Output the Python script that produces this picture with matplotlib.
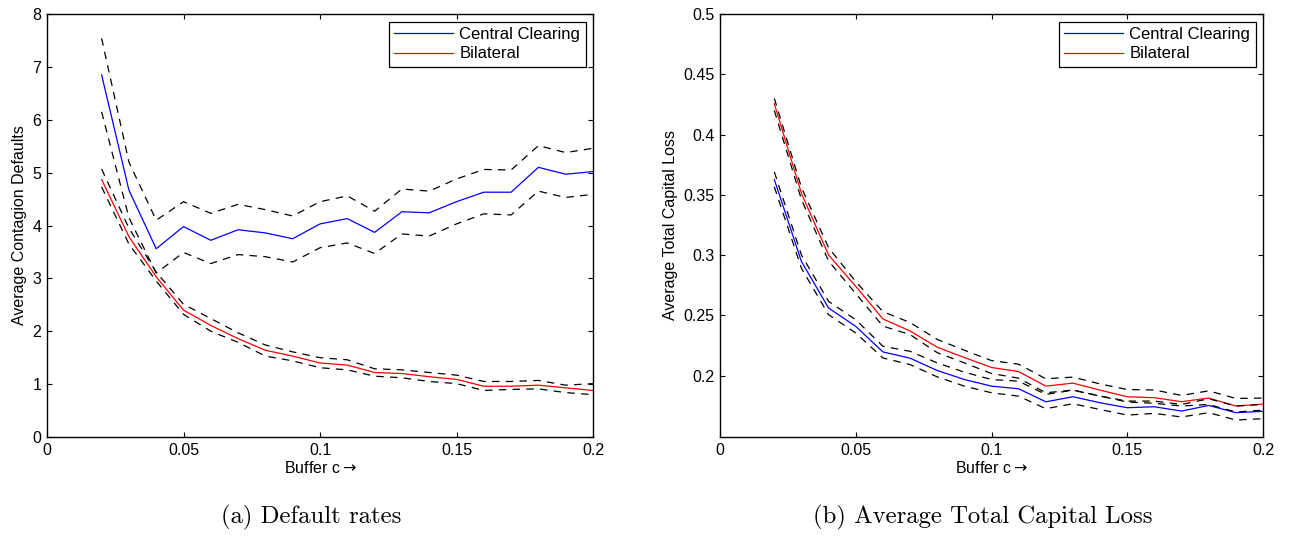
import numpy as np
import matplotlib
matplotlib.use('Agg')
import matplotlib.pyplot as plt
from matplotlib.ticker import FuncFormatter
from matplotlib import rcParams

rcParams['font.family'] = ['Liberation Sans', 'DejaVu Sans']
rcParams['font.size'] = 11.5

buffer_c = [0.02, 0.03, 0.04, 0.05, 0.06, 0.07, 0.08, 0.09, 0.10, 0.11,
            0.12, 0.13, 0.14, 0.15, 0.16, 0.17, 0.18, 0.19, 0.20]

# (a) default rates
cc_def = [6.85, 4.67, 3.56, 3.98, 3.72, 3.92, 3.86, 3.75, 4.03, 4.13,
          3.87, 4.26, 4.24, 4.45, 4.63, 4.63, 5.10, 4.97, 5.02]
cc_def_hi = [7.54, 5.20, 4.10, 4.45, 4.23, 4.40, 4.30, 4.18, 4.45, 4.56,
             4.27, 4.69, 4.65, 4.88, 5.06, 5.05, 5.51, 5.38, 5.46]
cc_def_lo = [6.15, 4.15, 3.10, 3.49, 3.28, 3.45, 3.41, 3.31, 3.58, 3.67,
             3.47, 3.84, 3.80, 4.03, 4.22, 4.20, 4.65, 4.53, 4.59]
bl_def = [4.87, 3.79, 3.03, 2.40, 2.11, 1.86, 1.64, 1.53, 1.40, 1.36,
          1.22, 1.20, 1.14, 1.09, 0.96, 0.96, 0.98, 0.93, 0.88]
bl_def_hi = [5.07, 3.95, 3.12, 2.51, 2.24, 1.97, 1.74, 1.61, 1.50, 1.46,
             1.29, 1.27, 1.22, 1.17, 1.05, 1.05, 1.07, 0.98, 1.01]
bl_def_lo = [4.73, 3.65, 2.95, 2.32, 2.00, 1.79, 1.53, 1.44, 1.31, 1.27,
             1.15, 1.12, 1.05, 1.01, 0.88, 0.90, 0.91, 0.84, 0.80]

# (b) average total capital loss
cc_loss = [0.3627, 0.2946, 0.2560, 0.2408, 0.2196, 0.2144, 0.2042, 0.1967, 0.1912, 0.1890,
           0.1782, 0.1824, 0.1774, 0.1733, 0.1741, 0.1705, 0.1752, 0.1692, 0.1703]
cc_loss_hi = [0.3690, 0.3000, 0.2615, 0.2463, 0.2243, 0.2201, 0.2105, 0.2028, 0.1967, 0.1953,
              0.1843, 0.1879, 0.1829, 0.1788, 0.1788, 0.1760, 0.1807, 0.1747, 0.1760]
cc_loss_lo = [0.3566, 0.2890, 0.2505, 0.2353, 0.2146, 0.2091, 0.1989, 0.1912, 0.1857, 0.1829,
              0.1725, 0.1766, 0.1718, 0.1672, 0.1686, 0.1656, 0.1692, 0.1631, 0.1642]
bl_loss = [0.4256, 0.3510, 0.3000, 0.2740, 0.2470, 0.2370, 0.2235, 0.2150, 0.2067, 0.2033,
           0.1912, 0.1937, 0.1879, 0.1824, 0.1816, 0.1783, 0.1813, 0.1747, 0.1763]
bl_loss_hi = [0.4300, 0.3560, 0.3060, 0.2780, 0.2530, 0.2440, 0.2300, 0.2210, 0.2124, 0.2094,
              0.1973, 0.1987, 0.1930, 0.1884, 0.1880, 0.1835, 0.1873, 0.1810, 0.1813]
bl_loss_lo = [0.4200, 0.3460, 0.2950, 0.2680, 0.2410, 0.2340, 0.2190, 0.2105, 0.2017, 0.1978,
              0.1857, 0.1879, 0.1830, 0.1780, 0.1770, 0.1747, 0.1760, 0.1697, 0.1713]

W, H = 1293, 537
fig = plt.figure(figsize=(W / 100, H / 100), dpi=100)
ax1 = fig.add_axes([47 / W, 100 / H, 546 / W, 423 / H])
ax2 = fig.add_axes([720 / W, 100 / H, 543 / W, 423 / H])

fmt = FuncFormatter(lambda v, p: '%g' % round(v, 4))


def panel(ax, cc, cc_hi, cc_lo, bl, bl_hi, bl_lo, ylab, caption):
    ax.plot(buffer_c, cc, color='#0000ff', lw=0.9, label='Central Clearing')
    ax.plot(buffer_c, bl, color='#ff0000', lw=0.9, label='Bilateral')
    for s in (cc_hi, cc_lo, bl_hi, bl_lo):
        ax.plot(buffer_c, s, color='k', lw=0.9, ls=(0, (6, 5)))
    ax.set_xlim(0, 0.2)
    ax.set_xticks([0, 0.05, 0.1, 0.15, 0.2])
    ax.xaxis.set_major_formatter(fmt)
    ax.yaxis.set_major_formatter(fmt)
    ax.tick_params(direction='in', top=True, right=True, length=3.6, width=0.8,
                   labelsize=11.5, pad=4)
    for sp in ax.spines.values():
        sp.set_linewidth(1.0)
    ax.set_xlabel(r'Buffer c$\rightarrow$', fontsize=11.5, labelpad=2)
    ax.set_ylabel(ylab, fontsize=11.5, labelpad=4)
    leg = ax.legend(loc='upper right', fontsize=12, handlelength=3.5,
                    borderaxespad=0.45, borderpad=0.32, labelspacing=0.28,
                    handletextpad=0.4, fancybox=False, framealpha=1)
    leg.get_frame().set_edgecolor('k')
    leg.get_frame().set_linewidth(0.9)
    # caption sits slightly left of the axes centre
    ax.text(0.5 - 9 / 545, -0.19, caption, transform=ax.transAxes,
            ha='center', va='center', fontsize=17.8, family='cmr10')


panel(ax1, cc_def, cc_def_hi, cc_def_lo, bl_def, bl_def_hi, bl_def_lo,
      'Average Contagion Defaults', '(a) Default rates')
ax1.set_ylim(0, 8)
ax1.set_yticks(range(0, 9))

panel(ax2, cc_loss, cc_loss_hi, cc_loss_lo, bl_loss, bl_loss_hi, bl_loss_lo,
      'Average Total Capital Loss', '(b) Average Total Capital Loss')
ax2.set_ylim(0.149, 0.5)
ax2.set_yticks([0.2, 0.25, 0.3, 0.35, 0.4, 0.45, 0.5])

fig.savefig('out.png', dpi=100)
